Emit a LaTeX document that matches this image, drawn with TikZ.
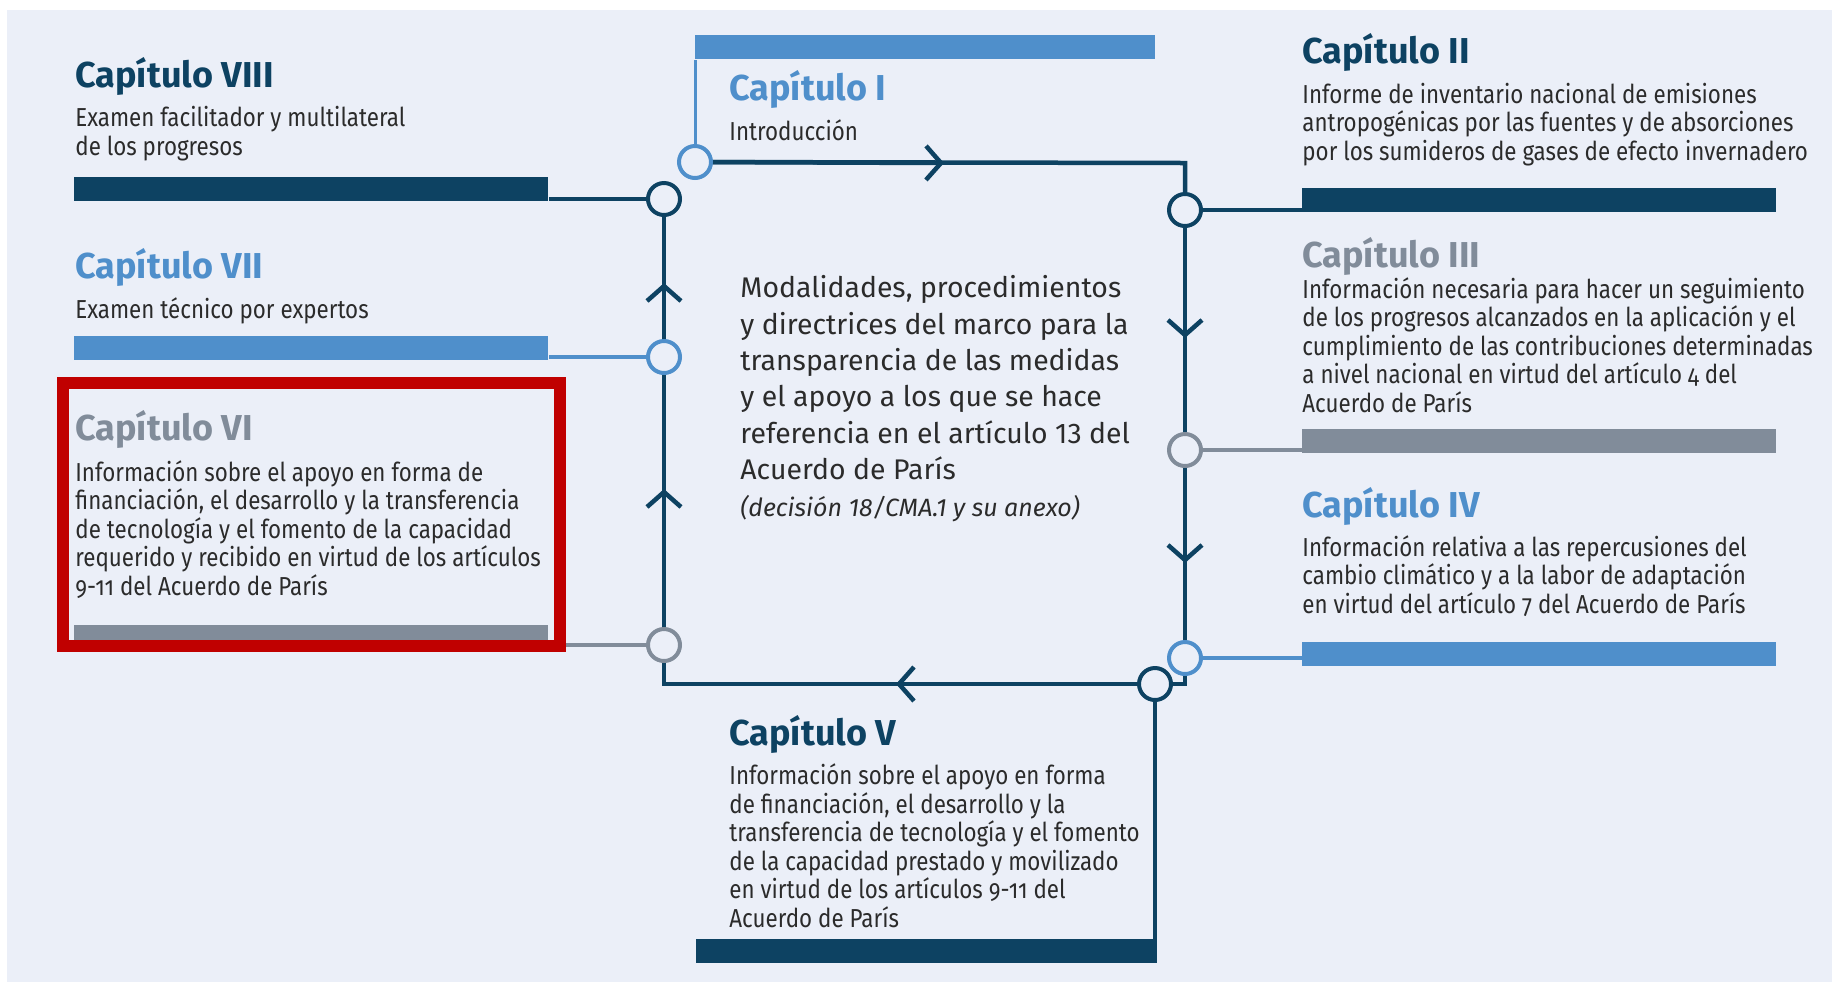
\documentclass[tikz,border=0pt]{standalone}
\usepackage{fontspec}
\setmainfont{Fira Sans}
\newfontfamily\descfont{Fira Sans}[FakeStretch=0.86, Numbers=OldStyle]
\usetikzlibrary{arrows.meta}

\definecolor{navy}{HTML}{0D4262}
\definecolor{sky}{HTML}{4F8FCB}
\definecolor{slate}{HTML}{818C9A}
\definecolor{paper}{HTML}{EBEFF8}
\definecolor{ink}{HTML}{2B2B2B}
\definecolor{alertred}{HTML}{C00000}

\tikzset{
   ring/.style={circle, draw=#1, line width=2pt, fill=paper, minimum size=16pt, inner sep=0pt},
   bar/.style={fill=#1, minimum height=12pt, minimum width=237pt, inner sep=0pt, anchor=north west},
   title/.style={anchor=base west, inner sep=0pt, text=#1, font=\bfseries\fontsize{18}{18}\selectfont},
   desc/.style={anchor=base west, inner sep=0pt, text=ink, align=left, font=\descfont\fontsize{13}{14.25}\selectfont},
   chev/.style={-{Straight Barb[length=7.5pt, width=17pt]}},
}

\begin{document}
\begin{tikzpicture}[x=0.5pt, y=-0.5pt]

   % 背景
   \useasboundingbox (0,0) rectangle (1832,982);
   \fill [paper] (7,10) rectangle (1832,982);

   % 帯
   \node [bar=sky, minimum width=230pt] (b1) at (695,35) {};
   \node [bar=navy] (b2) at (1302,188) {};
   \node [bar=slate] (b3) at (1302,429) {};
   \node [bar=sky] (b4) at (1302,642) {};
   \node [bar=navy, minimum width=230.5pt] (b5) at (696,939) {};
   \node [bar=slate] (b6) at (74,625) {};
   \node [bar=sky] (b7) at (74,336) {};
   \node [bar=navy] (b8) at (74,177) {};

   % 円
   \node [ring=sky] (c1) at (695,162) {};
   \node [ring=navy] (c2) at (1185,210) {};
   \node [ring=slate] (c3) at (1185,450) {};
   \node [ring=sky] (c4) at (1185,658) {};
   \node [ring=navy] (c5) at (1155,684) {};
   \node [ring=slate] (c6) at (664,645) {};
   \node [ring=sky] (c7) at (664,357) {};
   \node [ring=navy] (c8) at (664,199) {};
   \coordinate (k1) at (1185,163);
   \coordinate (k2) at (1185,684);
   \coordinate (k3) at (664,684);

   % 循環
   \draw [navy, line width=2.25pt] (c1) -- (k1) -- (c2);
   \draw [navy, line width=2.25pt] (c2) -- (c3);
   \draw [navy, line width=2.25pt] (c3) -- (c4);
   \draw [navy, line width=2.25pt] (c4) -- (k2) -- (c5);
   \draw [navy, line width=2.25pt] (c5) -- (k3) -- (c6);
   \draw [navy, line width=2.25pt] (c6) -- (c7);
   \draw [navy, line width=2.25pt] (c7) -- (c8);

   % 矢印
   \draw [navy, line width=2.25pt, chev] (c1) -- (944,163);
   \draw [navy, line width=2.25pt, chev] (c2) -- (1185,338);
   \draw [navy, line width=2.25pt, chev] (c3) -- (1185,563);
   \draw [navy, line width=2.25pt, chev] (c5) -- (896,684);
   \draw [navy, line width=2.25pt, chev] (c6) -- (664,489);
   \draw [navy, line width=2.25pt, chev] (c7) -- (664,283);

   % 円と帯
   \draw [sky, line width=1.5pt] (c1) -- (b1.south west);
   \draw [navy, line width=2pt] (c2) -- (c2 -| b2.west);
   \draw [slate, line width=2pt] (c3) -- (c3 -| b3.west);
   \draw [sky, line width=2pt] (c4) -- (c4 -| b4.west);
   \draw [navy, line width=2pt] (c5) -- (c5 |- b5.north);
   \draw [slate, line width=2pt] (c6) -- (c6 -| b6.east);
   \draw [sky, line width=2pt] (c7) -- (c7 -| b7.east);
   \draw [navy, line width=2pt] (c8) -- (c8 -| b8.east);

   % 見出しと説明 (説明は最終行の基線に置く)
   \node [title=sky] (t1) at (729,100) {Capítulo I};
   \node [desc] (d1) at (729,140) {Introducción};
   \node [title=navy] (t2) at (1302,63) {Capítulo II};
   \node [desc] (d2) at (1302,160) {Informe de inventario nacional de emisiones\\antropogénicas por las fuentes y de absorciones\\por los sumideros de gases de efecto invernadero};
   \node [title=slate] (t3) at (1302,267) {Capítulo III};
   \node [desc] (d3) at (1302,412) {Información necesaria para hacer un seguimiento\\de los progresos alcanzados en la aplicación y el\\cumplimiento de las contribuciones determinadas\\a nivel nacional en virtud del artículo 4 del\\Acuerdo de París};
   \node [title=sky] (t4) at (1302,517) {Capítulo IV};
   \node [desc] (d4) at (1302,613) {Información relativa a las repercusiones del\\cambio climático y a la labor de adaptación\\en virtud del artículo 7 del Acuerdo de París};
   \node [title=navy] (t5) at (729,745) {Capítulo V};
   \node [desc] (d5) at (729,927) {Información sobre el apoyo en forma\\de financiación, el desarrollo y la\\transferencia de tecnología y el fomento\\de la capacidad prestado y movilizado\\en virtud de los artículos 9-11 del\\Acuerdo de París};
   \node [title=slate] (t6) at (75,440) {Capítulo VI};
   \node [desc] (d6) at (75,595) {Información sobre el apoyo en forma de\\financiación, el desarrollo y la transferencia\\de tecnología y el fomento de la capacidad\\requerido y recibido en virtud de los artículos\\9-11 del Acuerdo de París};
   \node [title=sky] (t7) at (75,278) {Capítulo VII};
   \node [desc] (d7) at (75,318) {Examen técnico por expertos};
   \node [title=navy] (t8) at (75,87) {Capítulo VIII};
   \node [desc] (d8) at (75,155) {Examen facilitador y multilateral\\de los progresos};

   % 中央
   \node [anchor=base west, inner sep=0pt, text=ink, align=left, font=\fontsize{14.2}{18.2}\selectfont] (centre) at (740,516) {Modalidades, procedimientos\\y directrices del marco para la\\transparencia de las medidas\\y el apoyo a los que se hace\\referencia en el artículo 13 del\\Acuerdo de París\\{\itshape\fontsize{12.5}{18.2}\selectfont (decisión 18/CMA.1 y su anexo)}};

   % 枠
   \draw [alertred, line width=6pt] (63,383) rectangle (560,646);

\end{tikzpicture}
\end{document}
